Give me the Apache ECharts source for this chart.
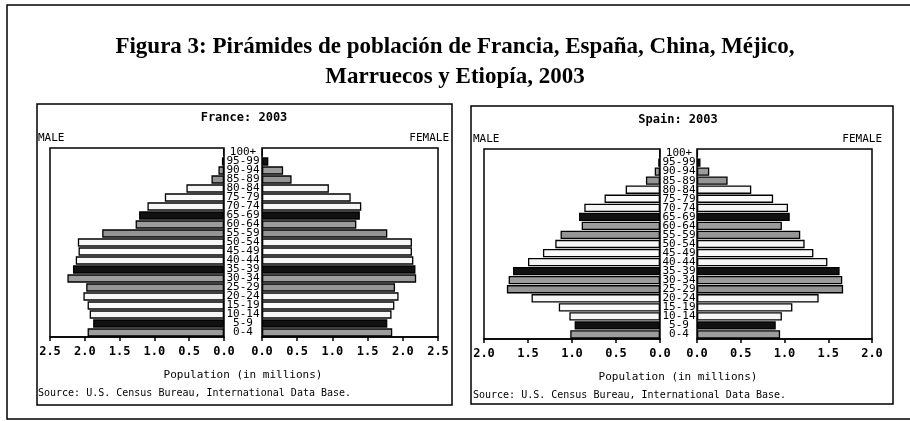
<!DOCTYPE html>
<html>
<head>
<meta charset="utf-8">
<title>Figura 3</title>
<script src="https://cdn.jsdelivr.net/npm/echarts@6/dist/echarts.min.js"></script>
<style>
  body { margin: 0; background: #fff; }
  #chart { width: 910px; height: 421px; }
</style>
</head>
<body>
<div id="chart"></div>
<script>
// age groups, bottom to top
var ages = ['0-4', '5-9', '10-14', '15-19', '20-24', '25-29', '30-34', '35-39', '40-44', '45-49',
    '50-54', '55-59', '60-64', '65-69', '70-74', '75-79', '80-84', '85-89', '90-94', '95-99', '100+']

// millions
var franceMale = [1.96, 1.88, 1.93, 1.96, 2.02, 1.98, 2.25, 2.17, 2.13, 2.09,
    2.10, 1.75, 1.27, 1.22, 1.10, 0.85, 0.54, 0.18, 0.08, 0.03, 0.01]
var franceFemale = [1.85, 1.78, 1.84, 1.88, 1.94, 1.89, 2.19, 2.18, 2.15, 2.13,
    2.13, 1.78, 1.34, 1.39, 1.41, 1.26, 0.95, 0.42, 0.30, 0.09, 0.01]
var spainMale = [1.02, 0.97, 1.03, 1.15, 1.46, 1.74, 1.72, 1.67, 1.50, 1.33,
    1.19, 1.13, 0.89, 0.92, 0.86, 0.63, 0.39, 0.16, 0.06, 0.02, 0.005]
var spainFemale = [0.95, 0.90, 0.97, 1.09, 1.39, 1.67, 1.66, 1.63, 1.49, 1.33,
    1.23, 1.18, 0.97, 1.06, 1.04, 0.87, 0.62, 0.35, 0.14, 0.04, 0.01]

var mono = "'DejaVu Sans Mono', 'Liberation Mono', monospace"
// shading cycle seen in the printout: gray, black, white, white, white, gray
var shades = ['#9c9c9c', '#111111', '#f6f6f6', '#fbfbfb', '#f6f6f6', '#959595']

function shaded(values) {
    var out = []
    for (var i = 0; i < values.length; i++) {
        out.push({
            value: values[i],
            itemStyle: { color: shades[i % 6] }
        })
    }
    return out
}

function valueAxis(idx, max, inverse) {
    return {
        type: 'value',
        gridIndex: idx,
        min: 0,
        max: max,
        interval: 0.5,
        inverse: inverse,
        axisLine: { show: true, lineStyle: { color: '#000', width: 1.5 } },
        axisTick: { show: true, inside: false, length: 4, lineStyle: { color: '#000', width: 1.5 } },
        splitLine: { show: false },
        axisLabel: {
            margin: 9,
            color: '#000',
            fontFamily: mono,
            fontSize: 12,
            fontWeight: 'bold',
            formatter: function(v) { return v.toFixed(1) }
        }
    }
}

function ageAxis(idx, showLabels, margin, position) {
    return {
        type: 'category',
        gridIndex: idx,
        data: ages,
        position: position,
        axisLine: { show: false },
        axisTick: { show: false },
        axisLabel: {
            show: showLabels,
            interval: 0,
            margin: margin,
            align: 'center',
            color: '#000',
            fontFamily: mono,
            fontSize: 11,
            lineHeight: 11
        }
    }
}

function barSeries(idx, values) {
    return {
        type: 'bar',
        xAxisIndex: idx,
        yAxisIndex: idx,
        data: shaded(values),
        barCategoryGap: '8%',
        itemStyle: { borderColor: '#000', borderWidth: 1.3 },
        silent: true,
        animation: false
    }
}

function label(x, y, text, opts) {
    var st = {
        x: x, y: y, text: text,
        fill: '#000',
        font: '10px ' + mono,
        textAlign: 'left',
        textVerticalAlign: 'middle'
    }
    for (var k in opts) st[k] = opts[k]
    return { type: 'text', silent: true, style: st }
}

function box(x, y, w, h, lw) {
    return {
        type: 'rect', silent: true,
        shape: { x: x, y: y, width: w, height: h },
        style: { fill: null, stroke: '#000', lineWidth: lw }
    }
}

var gridStyle = { show: true, borderColor: '#000', borderWidth: 1.5, backgroundColor: '#fff' }

var chartDom = document.getElementById('chart')
var myChart = echarts.init(chartDom, null, { renderer: 'canvas' })

var option = {
    backgroundColor: '#fff',
    animation: false,
    title: {
        text: 'Figura 3: Pirámides de población de Francia, España, China, Méjico,\nMarruecos y Etiopía, 2003',
        left: 'center',
        top: 27,
        textStyle: {
            fontFamily: "'Liberation Serif', 'Times New Roman', serif",
            fontWeight: 'bold',
            fontSize: 23,
            lineHeight: 30,
            color: '#000'
        }
    },
    grid: [
        Object.assign({ left: 50, top: 148, width: 174, height: 189 }, gridStyle),
        Object.assign({ left: 262, top: 148, width: 176, height: 189 }, gridStyle),
        Object.assign({ left: 484, top: 149, width: 176, height: 190 }, gridStyle),
        Object.assign({ left: 697, top: 149, width: 175, height: 190 }, gridStyle)
    ],
    xAxis: [
        valueAxis(0, 2.5, true),
        valueAxis(1, 2.5, false),
        valueAxis(2, 2.0, true),
        valueAxis(3, 2.0, false)
    ],
    yAxis: [
        ageAxis(0, false, 0, 'right'),
        ageAxis(1, true, 19, 'left'),
        ageAxis(2, false, 0, 'right'),
        ageAxis(3, true, 18, 'left')
    ],
    series: [
        barSeries(0, franceMale),
        barSeries(1, franceFemale),
        barSeries(2, spainMale),
        barSeries(3, spainFemale)
    ],
    graphic: [
        box(7, 5, 920, 414, 1.5),
        box(37, 104, 415, 301, 1.5),
        box(471, 106, 422, 298, 1.5),
        label(244, 118, 'France: 2003', { font: 'bold 12px ' + mono, textAlign: 'center' }),
        label(38, 138, 'MALE', { font: '11px ' + mono }),
        label(449, 138, 'FEMALE', { font: '11px ' + mono, textAlign: 'right' }),
        label(243, 375, 'Population (in millions)', { font: '11px ' + mono, textAlign: 'center' }),
        label(38, 393, 'Source: U.S. Census Bureau, International Data Base.'),
        label(678, 120, 'Spain: 2003', { font: 'bold 12px ' + mono, textAlign: 'center' }),
        label(473, 139, 'MALE', { font: '11px ' + mono }),
        label(882, 139, 'FEMALE', { font: '11px ' + mono, textAlign: 'right' }),
        label(678, 377, 'Population (in millions)', { font: '11px ' + mono, textAlign: 'center' }),
        label(473, 395, 'Source: U.S. Census Bureau, International Data Base.')
    ]
}

option && myChart.setOption(option)
</script>
</body>
</html>
